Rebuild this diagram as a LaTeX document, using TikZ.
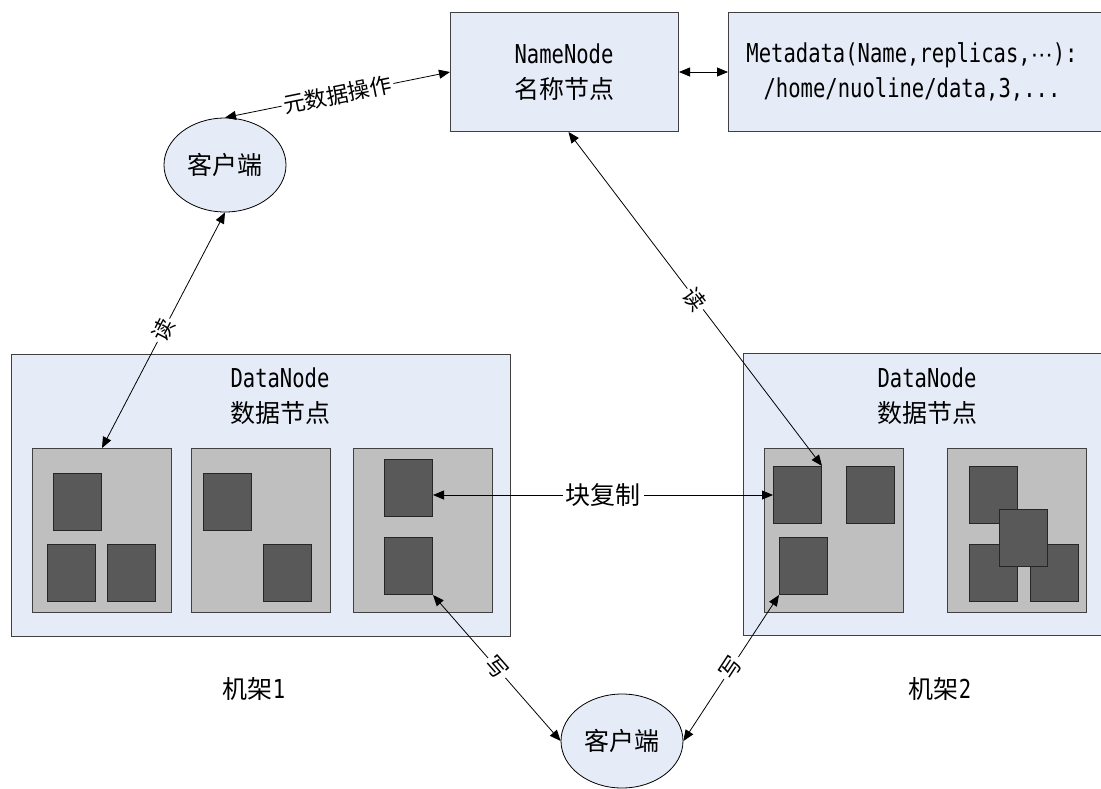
\documentclass[tikz,border=0pt]{standalone}
\usepackage{fontspec}
\setmainfont{Noto Sans CJK SC}
\newfontfamily\monofam[FakeStretch=0.79]{DejaVu Sans Mono}
\newfontfamily\dvsans{DejaVu Sans}
\newcommand\latmono[1]{{\monofam\fontsize{26}{35}\selectfont #1}}
\usetikzlibrary{arrows.meta,shapes.geometric}
\definecolor{paleblue}{HTML}{E6ECF7}
\definecolor{midgray}{HTML}{BFBFBF}
\definecolor{blockgray}{HTML}{595959}
\definecolor{edgegray}{HTML}{404040}
\begin{document}
\begin{tikzpicture}[x=1pt,y=-1pt,
 every node/.style={font=\fontsize{25}{35}\selectfont, inner sep=0pt},
 bluebox/.style={draw=edgegray, fill=paleblue, line width=1pt, rectangle, anchor=north west},
 rackbox/.style={draw=edgegray, fill=midgray, line width=1pt, anchor=north west, minimum width=139pt, minimum height=164pt},
 blk/.style={draw=black!85, fill=blockgray, line width=1pt, anchor=north west, minimum width=48pt, minimum height=57pt},
 client/.style={ellipse, draw=black, fill=paleblue, line width=0.8pt, minimum width=122pt, minimum height=94pt},
 conn/.style={draw=black, line width=0.8pt, {Triangle[length=11pt,width=9pt]}-{Triangle[length=11pt,width=9pt]}},
 lbl/.style={fill=white, sloped, inner sep=2pt, font=\fontsize{22}{22}\selectfont},
]
\useasboundingbox (0,0) rectangle (1101,788);

% top
\node[bluebox, minimum width=228pt, minimum height=119pt] (nn) at (450,12) {};
\node[align=center] (nntext) at (564,72) {\latmono{NameNode}\\名称节点};
\node[bluebox, minimum width=390pt, minimum height=119pt] (md) at (728,12) {};
\node[align=center] (mdtext) at (912,72) {\latmono{Metadata(Name,replicas,}{\dvsans\fontsize{22}{35}\selectfont ⋯}\latmono{):}\\\latmono{/home/nuoline/data,3,...}};

\node[client] (c1) at (225,165) {客户端};
\node[client] (c2) at (622,741) {客户端};

% left data node
\node[bluebox, minimum width=499pt, minimum height=282pt] (dn1) at (11,354) {};
\node[align=center] (dn1text) at (280,396) {\latmono{DataNode}\\数据节点};
\node[rackbox] (l1) at (32,448) {};
\node[rackbox] (l2) at (191,448) {};
\node[rackbox] (l3) at (353,448) {};
\node[blk] (l1a) at (53,473) {};
\node[blk] (l1b) at (47,544) {};
\node[blk] (l1c) at (107,544) {};
\node[blk] (l2a) at (203,473) {};
\node[blk] (l2b) at (263,544) {};
\node[blk] (l3a) at (384,459) {};
\node[blk] (l3b) at (384,537) {};

% right data node
\node[bluebox, minimum width=380pt, minimum height=282pt] (dn2) at (743,353) {};
\node[align=center] (dn2text) at (927,396) {\latmono{DataNode}\\数据节点};
\node[rackbox] (r1) at (764,448) {};
\node[rackbox] (r2) at (947,448) {};
\node[blk] (r1a) at (773,466) {};
\node[blk] (r1b) at (846,466) {};
\node[blk] (r1c) at (779,537) {};
\node[blk] (r2a) at (969,466) {};
\node[blk] (r2b) at (969,544) {};
\node[blk] (r2c) at (1030,544) {};
\node[blk] (r2d) at (999,509) {};

\node (rack1) at (254,689) {机架\latmono{1}};
\node (rack2) at (940,689) {机架\latmono{2}};

% connectors
\draw[conn] (c1.north) -- node[lbl] {元数据操作} (nn.west);
\draw[conn] (nn.east) -- (md.west);
\draw[conn] (c1.south) -- node[lbl] {读} (l1.north);
\draw[conn] ([xshift=4pt]nn.south) -- node[lbl] {读} (r1a.north east);
\draw[conn] (l3a.east |- r1a.west) -- node[fill=white, inner sep=3pt] {块复制} (r1a.west);
\draw[conn] (l3b.south east) -- node[lbl] {写} (c2.west);
\draw[conn] (r1c.south west) -- node[lbl] {写} (c2.east);
\end{tikzpicture}
\end{document}
